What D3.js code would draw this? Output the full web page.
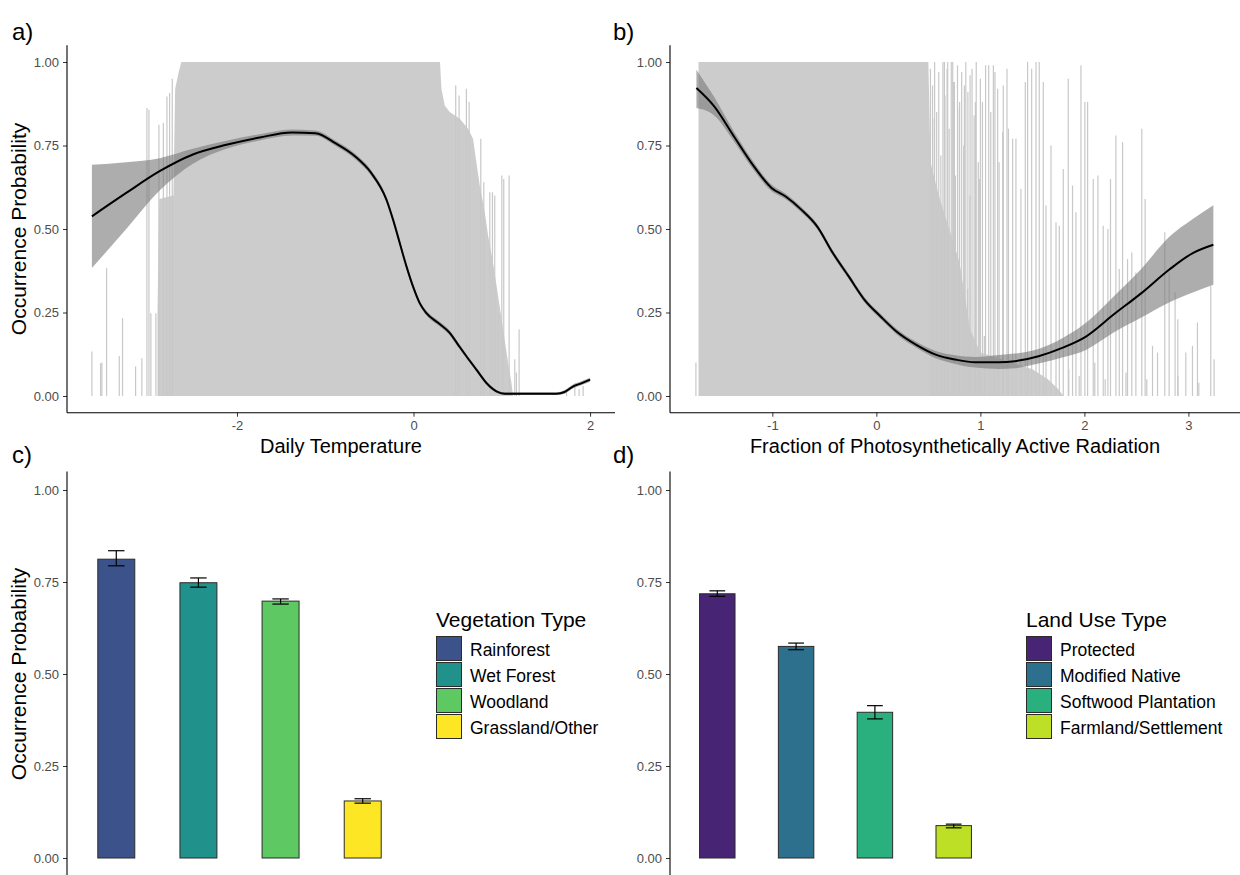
<!DOCTYPE html>
<html>
<head>
<meta charset="utf-8">
<script src="https://cdnjs.cloudflare.com/ajax/libs/d3/7.8.5/d3.min.js"></script>
<style>
  body { margin: 0; background: #fff; }
  svg { display: block; font-family: "Liberation Sans", Arial, sans-serif; }
</style>
</head>
<body>
<svg id="chart" width="1240" height="875"></svg>
<script>
// DATA SECTION

// a) daily temperature: fitted curve and its band
let tempX   = [-3.643, -3.254, -2.876, -2.499, -2.12, -1.743, -1.38, -1.11, -0.886, -0.66, -0.48, -0.307, -0.232, -0.156, -0.08, -0.006, 0.07, 0.146, 0.278, 0.41, 0.504, 0.599, 0.712, 0.826, 0.939, 1.034, 1.62, 1.71, 1.81, 1.9, 2.0];
let tempFit = [0.538, 0.608, 0.673, 0.723, 0.752, 0.774, 0.789, 0.787, 0.757, 0.717, 0.668, 0.588, 0.528, 0.458, 0.388, 0.328, 0.278, 0.248, 0.219, 0.189, 0.154, 0.119, 0.079, 0.039, 0.014, 0.007, 0.007, 0.012, 0.029, 0.038, 0.049];
let tempLo  = [0.383, 0.500, 0.615, 0.695, 0.740, 0.765, 0.780, 0.779, 0.749, 0.709, 0.660, 0.580, 0.520, 0.450, 0.380, 0.320, 0.271, 0.241, 0.212, 0.182, 0.147, 0.113, 0.073, 0.034, 0.010, 0.003, 0.003, 0.007, 0.023, 0.032, 0.043];
let tempHi  = [0.692, 0.700, 0.712, 0.740, 0.764, 0.784, 0.798, 0.795, 0.765, 0.725, 0.676, 0.596, 0.536, 0.466, 0.396, 0.336, 0.285, 0.255, 0.226, 0.196, 0.161, 0.125, 0.085, 0.044, 0.018, 0.011, 0.011, 0.017, 0.035, 0.044, 0.055];
// a) dense block of observations (x, top)
let tempEnvX   = [-2.90, -2.88, -2.72, -2.70, -2.66, -2.63, 0.30, 0.316, 0.354, 0.41, 0.524, 0.618, 0.674, 0.712, 0.75, 0.807, 0.845, 0.90, 0.958, 1.014, 1.071, 1.109, 1.128];
let tempEnvTop = [0.25, 0.59, 0.60, 0.92, 0.97, 1.0, 1.0, 0.92, 0.87, 0.85, 0.83, 0.80, 0.77, 0.70, 0.63, 0.55, 0.48, 0.40, 0.30, 0.20, 0.10, 0.04, 0.0];
// a) single observations outside the block (x, top)
let tempSpikes = [
  [-3.643, 0.133], [-3.545, 0.098], [-3.53, 0.10], [-3.477, 0.383], [-3.333, 0.12], [-3.296, 0.233],
  [-3.148, 0.088], [-3.077, 0.113], [-3.02, 0.862], [-2.997, 0.857], [-2.975, 0.248], [-2.918, 0.248],
  [-2.884, 0.812], [-2.834, 0.817], [-2.793, 0.897], [-2.763, 0.907], [-2.733, 0.95],
  [0.478, 0.93], [0.516, 0.90], [0.599, 0.92], [0.63, 0.88], [0.762, 0.77], [0.796, 0.64],
  [0.864, 0.61], [0.894, 0.61], [0.92, 0.60], [0.958, 0.25], [1.0, 0.66], [1.022, 0.65],
  [1.083, 0.66], [1.147, 0.11], [1.166, 0.07], [1.196, 0.20],
  [1.733, 0.02], [1.827, 0.03], [1.876, 0.02], [1.921, 0.03]
];

// b) fraction of photosynthetically active radiation
let fparX   = [-1.73, -1.559, -1.369, -1.179, -1.008, -0.875, -0.722, -0.57, -0.418, -0.266, -0.114, 0.038, 0.19, 0.38, 0.57, 0.76, 0.95, 1.179, 1.331, 1.559, 1.787, 2.015, 2.281, 2.548, 2.814, 3.042, 3.24];
let fparFit = [0.922, 0.867, 0.777, 0.688, 0.623, 0.598, 0.558, 0.508, 0.428, 0.358, 0.288, 0.239, 0.194, 0.154, 0.124, 0.109, 0.101, 0.101, 0.104, 0.119, 0.144, 0.178, 0.244, 0.308, 0.378, 0.428, 0.453];
let fparLo  = [0.862, 0.840, 0.762, 0.676, 0.613, 0.590, 0.550, 0.500, 0.420, 0.350, 0.280, 0.231, 0.186, 0.145, 0.113, 0.096, 0.085, 0.081, 0.083, 0.097, 0.115, 0.138, 0.190, 0.235, 0.280, 0.310, 0.333];
let fparHi  = [0.977, 0.895, 0.792, 0.700, 0.633, 0.606, 0.566, 0.516, 0.436, 0.366, 0.296, 0.247, 0.202, 0.163, 0.135, 0.122, 0.117, 0.123, 0.127, 0.141, 0.173, 0.219, 0.298, 0.381, 0.476, 0.530, 0.571];
let fparEnvX   = [-1.71, 0.50, 0.52, 0.60, 0.70, 0.80, 0.85, 0.90, 1.00, 1.30, 1.50, 1.65, 1.75, 1.80];
let fparEnvTop = [1.0, 1.0, 0.70, 0.60, 0.50, 0.40, 0.30, 0.20, 0.13, 0.10, 0.08, 0.05, 0.02, 0.0];
let fparSpikes = [
  [-1.735, 0.10],
  [0.52, 0.98], [0.54, 0.93], [0.56, 1.0], [0.58, 0.85], [0.60, 0.97], [0.62, 0.72], [0.64, 1.0], [0.66, 0.90],
  [0.68, 0.98], [0.70, 0.80], [0.72, 1.0], [0.74, 0.94], [0.76, 0.66], [0.78, 0.99], [0.80, 0.88], [0.82, 0.97],
  [0.84, 0.75], [0.86, 1.0], [0.88, 0.91], [0.90, 0.60], [0.92, 0.98], [0.94, 0.84], [0.96, 1.0], [0.98, 0.70],
  [1.00, 0.95], [1.02, 0.88], [1.05, 0.99], [1.10, 0.85], [1.14, 0.97], [1.18, 0.70], [1.22, 0.93], [1.27, 0.80],
  [0.542, 0.83], [0.622, 0.49], [0.654, 1.0], [0.686, 1.0], [0.734, 1.0], [0.75, 0.94],
  [0.798, 0.86], [0.846, 0.93], [0.878, 0.32], [0.901, 0.96], [0.952, 0.88], [0.99, 0.65], [1.038, 0.18],
  [1.08, 0.99], [1.125, 0.99], [1.166, 0.92], [1.214, 0.79], [1.256, 0.98], [1.31, 0.77], [1.342, 0.77],
  [1.39, 0.62], [1.432, 0.94], [1.454, 1.0], [1.493, 0.98], [1.535, 1.0], [1.566, 1.0], [1.605, 0.94],
  [1.631, 0.57], [1.679, 0.75], [1.727, 0.52], [1.759, 0.51], [1.797, 0.68], [1.845, 0.95], [1.886, 0.63],
  [1.919, 0.55], [1.967, 0.99], [2.005, 0.88], [2.031, 0.88], [2.085, 0.65], [2.13, 0.66], [2.181, 0.51],
  [2.226, 0.50], [2.251, 0.65], [2.303, 0.78], [2.335, 0.38], [2.367, 0.76], [2.415, 0.41], [2.456, 0.43],
  [2.495, 0.37], [2.552, 0.80], [2.584, 0.59], [2.655, 0.15], [2.703, 0.13], [2.773, 0.49], [2.815, 0.37],
  [2.872, 0.31], [2.898, 0.23], [2.975, 0.13], [3.039, 0.15], [3.087, 0.22], [3.215, 0.33], [3.247, 0.11],
  [1.85, 0.08], [1.95, 0.06], [2.10, 0.10], [2.20, 0.05], [2.40, 0.07], [2.60, 0.05], [2.90, 0.06], [3.10, 0.04]
];

// c) vegetation type
let vegTypes = ['Rainforest', 'Wet Forest', 'Woodland', 'Grassland/Other'];
let vegMean  = [0.812, 0.748, 0.698, 0.155];
let vegLo    = [0.794, 0.736, 0.690, 0.149];
let vegHi    = [0.835, 0.761, 0.704, 0.161];

// d) land use type
let landTypes = ['Protected', 'Modified Native', 'Softwood Plantation', 'Farmland/Settlement'];
let landMean  = [0.718, 0.575, 0.396, 0.088];
let landLo    = [0.711, 0.566, 0.378, 0.082];
let landHi    = [0.726, 0.584, 0.414, 0.092];

let probTicks = [0, 0.25, 0.5, 0.75, 1];


// DRAW SECTION

const svg = d3.select('#chart');
const tickCol = '#4d4d4d';

// y axis with ggplot-ish look, line drawn over full panel
function yAxis(g, y, x0, showTitle, title, titleX) {
  g.append('g')
    .attr('transform', `translate(${x0},0)`)
    .call(d3.axisLeft(y).tickValues(probTicks).tickFormat(d3.format('.2f')).tickSize(4).tickPadding(4))
    .call(a => a.select('.domain').remove())
    .call(a => a.selectAll('.tick line').attr('stroke', '#333'))
    .call(a => a.selectAll('.tick text')
      .attr('font-size', 13)
      .attr('font-family', '"Liberation Sans", Arial, sans-serif')
      .attr('fill', tickCol));
  g.append('line')
    .attr('x1', x0).attr('x2', x0)
    .attr('y1', y.range()[1]).attr('y2', y.range()[0])
    .attr('stroke', 'black').attr('stroke-width', 1.1);
  if (showTitle) {
    let yc = (y.range()[0] + y.range()[1]) / 2;
    g.append('text')
      .attr('transform', `translate(${titleX},${yc}) rotate(-90)`)
      .attr('text-anchor', 'middle')
      .attr('font-size', 21)
      .text(title);
  }
}

// panels a and b
function smoothPanel(cfg) {
  let g = svg.append('g').attr('class', 'smooth');
  let allX = cfg.curveX.concat(cfg.spikes.map(d => d[0]), cfg.envX);
  let ext = d3.extent(allX);
  let pad = (ext[1] - ext[0]) * 0.05;
  let x = d3.scaleLinear()
    .domain([ext[0] - pad, ext[1] + pad])
    .range([cfg.left, cfg.right]);
  let y = d3.scaleLinear()
    .domain([-0.05, 1.05])
    .range([412.7, 45.3]);

  // observations block
  let env = cfg.envX.map((v, i) => [v, cfg.envTop[i]]);
  g.append('path')
    .datum(env)
    .attr('fill', '#cccccc')
    .attr('d', d3.area().x(d => x(d[0])).y0(y(0)).y1(d => y(d[1])));

  // single observations
  g.selectAll('line.spike')
    .data(cfg.spikes)
    .enter().append('line')
    .attr('class', 'spike')
    .attr('x1', d => x(d[0])).attr('x2', d => x(d[0]))
    .attr('y1', y(0)).attr('y2', d => y(d[1]))
    .attr('stroke', '#c8c8c8')
    .attr('stroke-width', 1.2);

  // confidence band
  let band = cfg.curveX.map((v, i) => ({x: v, lo: cfg.lo[i], hi: cfg.hi[i], fit: cfg.fit[i]}));
  g.append('path')
    .datum(band)
    .attr('fill', '#7a7a7a')
    .attr('fill-opacity', 0.62)
    .attr('d', d3.area().curve(d3.curveMonotoneX).x(d => x(d.x)).y0(d => y(d.lo)).y1(d => y(d.hi)));

  g.append('path')
    .datum(band)
    .attr('fill', 'none')
    .attr('stroke', 'black')
    .attr('stroke-width', 2)
    .attr('d', d3.line().curve(d3.curveMonotoneX).x(d => x(d.x)).y(d => y(d.fit)));

  // x axis
  g.append('g')
    .attr('transform', `translate(0,${y.range()[0]})`)
    .call(d3.axisBottom(x).tickValues(cfg.xTicks).tickFormat(d => String(d)).tickSize(4).tickPadding(4))
    .call(a => a.select('.domain').remove())
    .call(a => a.selectAll('.tick line').attr('stroke', '#333'))
    .call(a => a.selectAll('.tick text')
      .attr('font-size', 13)
      .attr('font-family', '"Liberation Sans", Arial, sans-serif')
      .attr('fill', tickCol));
  g.append('line')
    .attr('x1', cfg.left).attr('x2', cfg.right)
    .attr('y1', y.range()[0]).attr('y2', y.range()[0])
    .attr('stroke', 'black').attr('stroke-width', 1.1);
  g.append('text')
    .attr('x', (cfg.left + cfg.right) / 2)
    .attr('y', 453)
    .attr('text-anchor', 'middle')
    .attr('font-size', 20)
    .text(cfg.xTitle);

  yAxis(g, y, cfg.left, cfg.yTitle, 'Occurrence Probability', 26);
}

// panels c and d
function barPanel(cfg) {
  let g = svg.append('g').attr('class', 'bars');
  let x = d3.scaleLinear().domain([0.4, 4.6]).range([cfg.left, cfg.right]);
  let y = d3.scaleLinear().domain([-0.05, 1.05]).range([876.4, 471.6]);
  let fill = d3.scaleOrdinal()
    .domain(cfg.types)
    .range(cfg.types.map((d, i) => d3.interpolateViridis(cfg.cBegin + i * cfg.cStep)));

  let dat = cfg.types.map((t, i) => ({type: t, pos: i + 1, m: cfg.mean[i], lo: cfg.lo[i], hi: cfg.hi[i]}));

  g.selectAll('rect.bar')
    .data(dat)
    .enter().append('rect')
    .attr('class', 'bar')
    .attr('x', d => x(d.pos - 0.225))
    .attr('width', x(0.45) - x(0))
    .attr('y', d => y(d.m))
    .attr('height', d => y(0) - y(d.m))
    .attr('fill', d => fill(d.type))
    .attr('stroke', '#2b2b2b')
    .attr('stroke-width', 1);

  // error bars
  g.selectAll('g.err')
    .data(dat)
    .enter().append('g')
    .attr('class', 'err')
    .each(function(d) {
      let e = d3.select(this);
      e.append('line').attr('x1', x(d.pos)).attr('x2', x(d.pos)).attr('y1', y(d.lo)).attr('y2', y(d.hi))
        .attr('stroke', 'black').attr('stroke-width', 1.2);
      [d.lo, d.hi].forEach(v => {
        e.append('line').attr('x1', x(d.pos - 0.1)).attr('x2', x(d.pos + 0.1)).attr('y1', y(v)).attr('y2', y(v))
          .attr('stroke', 'black').attr('stroke-width', 1.2);
      });
    });

  yAxis(g, y, cfg.left, cfg.yTitle, 'Occurrence Probability', 26);

  // legend
  let lg = g.append('g').attr('transform', `translate(${cfg.legendX},0)`);
  lg.append('text')
    .attr('x', 0).attr('y', 627)
    .attr('font-size', 21)
    .text(cfg.legendTitle);
  lg.selectAll('g.key')
    .data(dat)
    .enter().append('g')
    .attr('class', 'key')
    .attr('transform', (d, i) => `translate(0,${636 + i * 26})`)
    .each(function(d) {
      d3.select(this).append('rect')
        .attr('x', 0.5).attr('y', 0.5)
        .attr('width', 25).attr('height', 24)
        .attr('fill', fill(d.type))
        .attr('stroke', '#2b2b2b')
        .attr('stroke-width', 1);
      d3.select(this).append('text')
        .attr('x', 34).attr('y', 19.5)
        .attr('font-size', 17.5)
        .text(d.type);
    });
}

smoothPanel({left: 67, right: 615, curveX: tempX, fit: tempFit, lo: tempLo, hi: tempHi,
  envX: tempEnvX, envTop: tempEnvTop, spikes: tempSpikes, xTicks: [-2, 0, 2],
  xTitle: 'Daily Temperature', yTitle: true});
smoothPanel({left: 670, right: 1240, curveX: fparX, fit: fparFit, lo: fparLo, hi: fparHi,
  envX: fparEnvX, envTop: fparEnvTop, spikes: fparSpikes, xTicks: [-1, 0, 1, 2, 3],
  xTitle: 'Fraction of Photosynthetically Active Radiation', yTitle: false});

barPanel({left: 67, right: 412, types: vegTypes, mean: vegMean, lo: vegLo, hi: vegHi,
  cBegin: 0.25, cStep: 0.25, legendX: 436, legendTitle: 'Vegetation Type', yTitle: true});
barPanel({left: 670, right: 1001, types: landTypes, mean: landMean, lo: landLo, hi: landHi,
  cBegin: 0.1, cStep: 0.8 / 3, legendX: 1026, legendTitle: 'Land Use Type', yTitle: false});

// panel tags
[['a)', 12, 40], ['b)', 613, 40], ['c)', 12, 463], ['d)', 613, 463]].forEach(t => {
  svg.append('text').attr('x', t[1]).attr('y', t[2]).attr('font-size', 24).text(t[0]);
});
</script>
</body>
</html>
